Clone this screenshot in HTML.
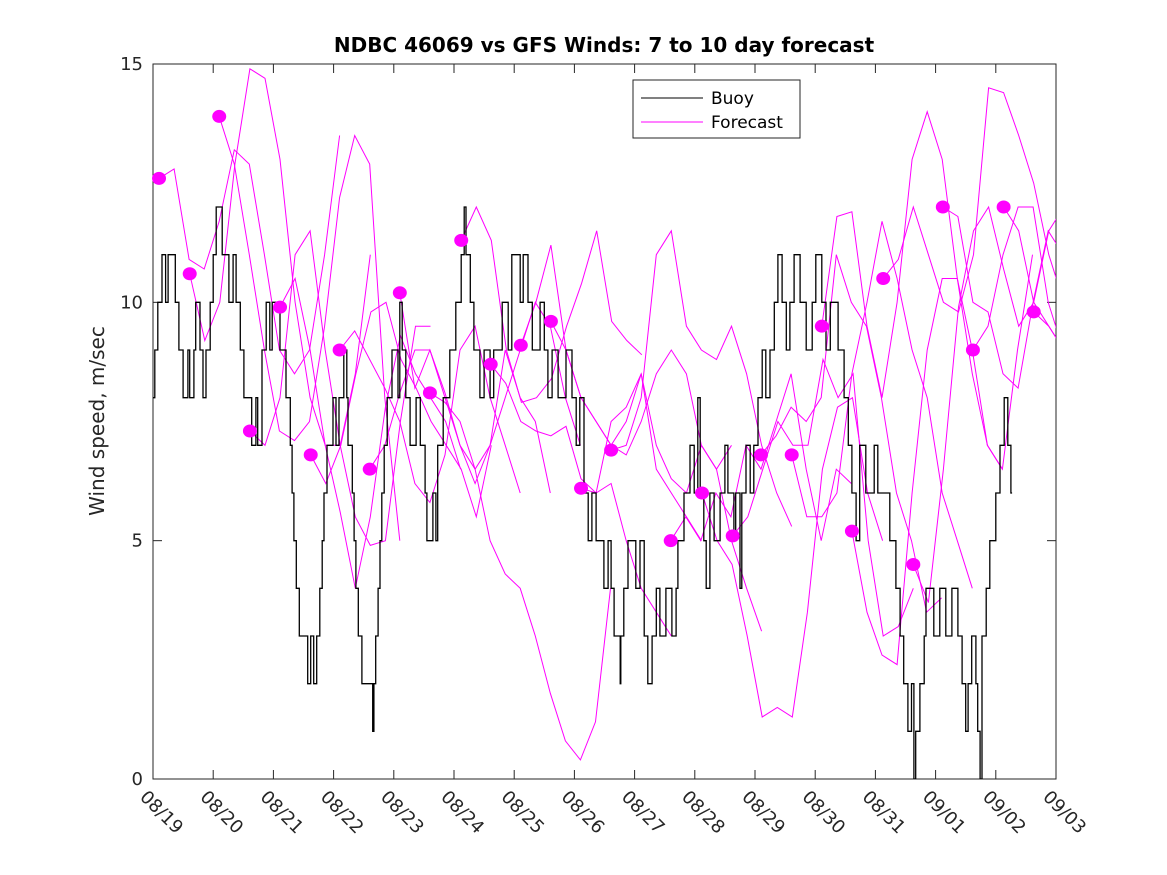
<!DOCTYPE html>
<html><head><meta charset="utf-8"><style>
html,body{margin:0;padding:0;background:#fff;}
svg{display:block;font-family:"DejaVu Sans","Liberation Sans",sans-serif;}
</style></head><body>
<svg id="chart" width="1167" height="875" viewBox="0 0 1167 875">
<rect x="0" y="0" width="1167" height="875" fill="#fff"/>
<defs><clipPath id="pc"><rect x="153" y="64" width="903" height="715"/></clipPath></defs>
<text x="604" y="52" text-anchor="middle" font-size="20" font-weight="bold" fill="#000">NDBC 46069 vs GFS Winds: 7 to 10 day forecast</text>
<text transform="translate(104,421) rotate(-90)" text-anchor="middle" font-size="20" fill="#262626">Wind speed, m/sec</text>
<g id="axes"></g>
<g id="forecasts" clip-path="url(#pc)"></g>
<g id="buoy" clip-path="url(#pc)"></g>
<g id="dots"></g>
<g id="legend">
<rect x="633" y="80" width="167" height="58" fill="#fff" stroke="#262626" stroke-width="1"/>
<line x1="641" y1="98" x2="703" y2="98" stroke="#000" stroke-width="1"/>
<text x="711" y="104" font-size="17" fill="#000">Buoy</text>
<line x1="641" y1="122" x2="703" y2="122" stroke="#ff00ff" stroke-width="1"/>
<text x="711" y="128" font-size="17" fill="#000">Forecast</text>
</g>
</svg>
<script>
const xTickLabels=["08/19","08/20","08/21","08/22","08/23","08/24","08/25","08/26","08/27","08/28","08/29","08/30","08/31","09/01","09/02","09/03"];
const yTicks=[0,5,10,15];
const buoyT=[0,0.03,0.08,0.15,0.21,0.25,0.37,0.43,0.5,0.58,0.61,0.68,0.71,0.78,0.83,0.88,0.95,1.0,1.05,1.15,1.26,1.33,1.38,1.45,1.51,1.64,1.71,1.74,1.81,1.88,1.94,1.98,2.11,2.21,2.28,2.31,2.34,2.38,2.43,2.57,2.62,2.67,2.72,2.77,2.81,2.84,2.89,2.99,3.04,3.09,3.17,3.22,3.24,3.31,3.34,3.37,3.41,3.47,3.65,3.67,3.7,3.74,3.77,3.8,3.84,3.89,3.97,4.07,4.1,4.14,4.2,4.27,4.37,4.44,4.52,4.55,4.65,4.7,4.73,4.82,4.93,5.03,5.12,5.17,5.2,5.27,5.33,5.43,5.5,5.6,5.66,5.8,5.9,5.96,6.1,6.15,6.23,6.3,6.43,6.5,6.56,6.63,6.73,6.86,6.96,7.03,7.09,7.16,7.23,7.29,7.36,7.49,7.56,7.61,7.66,7.76,7.77,7.82,7.89,8.02,8.09,8.16,8.22,8.29,8.36,8.42,8.52,8.62,8.69,8.72,8.82,8.92,8.99,9.05,9.09,9.15,9.19,9.25,9.32,9.42,9.5,9.55,9.65,9.68,9.75,9.78,9.85,9.92,9.98,10.05,10.12,10.18,10.25,10.32,10.38,10.45,10.52,10.58,10.65,10.75,10.85,10.95,11.01,11.11,11.18,11.25,11.38,11.48,11.55,11.61,11.68,11.74,11.84,11.98,12.04,12.24,12.34,12.41,12.47,12.54,12.6,12.64,12.67,12.74,12.81,12.84,12.97,13.07,13.17,13.27,13.37,13.44,13.5,13.54,13.6,13.67,13.7,13.74,13.77,13.84,13.9,14.0,14.07,14.14,14.2,14.25,14.27];
const buoyV=[8,9,10,11,10,11,10,9,8,9,8,9,10,9,8,9,10,11,12,11,10,11,10,9,8,7,8,7,9,10,9,10,9,8,7,6,5,4,3,2,3,2,3,4,5,6,7,8,7,8,9,8,7,6,5,4,3,2,1,2,3,4,5,6,7,8,9,8,10,9,8,7,8,7,6,5,6,5,7,8,9,10,11,12,11,10,9,8,9,8,9,10,9,11,10,11,10,9,10,9,8,9,8,9,8,7,8,6,5,6,5,4,5,4,3,2,3,4,5,4,5,3,2,3,4,3,4,3,4,5,6,7,6,8,6,5,4,6,5,6,7,6,5,6,4,6,7,6,7,8,9,8,9,10,11,10,9,10,11,10,9,10,11,10,9,10,9,8,7,6,5,7,6,7,6,5,4,3,2,1,2,0,1,2,3,4,3,4,3,4,3,2,1,2,3,2,1,0,3,4,5,6,7,8,7,6,6];
const fcStart=[0.1,0.61,1.1,1.61,2.11,2.62,3.1,3.6,4.1,4.6,5.12,5.61,6.11,6.61,7.11,7.61,8.6,9.12,9.63,10.1,10.61,11.11,11.61,12.13,12.63,13.12,13.62,14.13,14.63];
const fc0=[12.6,12.8,10.9,10.7,11.7,13.2,12.9,11,9,8.5,9,11,13.5];
const fc1=[10.6,9.2,10,12.9,14.9,14.7,13,10,8,7,7,8.5,11];
const fc2=[13.9,12.9,11,9,7.3,7.1,7.5,9.5,12.2,13.5,12.9,8,5];
const fc3=[7.3,7,8,11,11.5,9,7,5.5,4.9,5,7.5,9.5,9.5];
const fc4=[9.9,10.5,9,7,5.6,4,5.5,7.8,9.3,8.5,8,7.5,6.5];
const fc5=[6.8,6.2,7,8.5,9.8,10,8.8,8.2,7.5,7,6.5,5.5,7];
const fc6=[9.0,9.4,8.8,8.2,7.5,6.2,5.8,6.8,9,9.5,8,7,6];
const fc7=[6.5,7,8.1,9,9,8.1,7,6.2,7,9,8,7.5,6];
const fc8=[10.2,8.2,9,8,7,6.5,7,8,9,10,9.5,8,7];
const fc9=[8.1,7.9,7.5,6.5,5,4.3,4,3,1.8,0.8,0.4,1.2,4];
const fc10=[11.3,12,11.3,9,7.9,8,8.4,9.5,10.4,11.5,9.6,9.2,8.9];
const fc11=[8.7,8.3,7.5,7.3,7.2,7.4,6.3,6,6.2,5,4,3.5,3];
const fc12=[9.1,10,11.2,9,8,7.5,7,7.5,8.5,6.5,6,5.5,5];
const fc13=[9.6,9,8,7.5,7,6.8,7.5,8.5,9,8.5,7,6.5,7];
const fc14=[6.1,6,7.5,7.8,8.5,7,6.3,6,7,6.5,5,4,3.1];
const fc15=[6.9,7,8,11,11.5,9.5,9,8.8,9.5,8.5,7,6,5.3];
const fc16=[5.0,5.5,5,6,5.5,7,6.5,7.5,8.5,6.5,5,6.5,6.2];
const fc17=[6.0,5,4.5,3,1.3,1.5,1.3,3.5,6.5,7.8,8,6,5];
const fc18=[5.1,5.5,6.5,7.5,7,7,8.8,8,8.5,5,3,3.2,4];
const fc19=[6.8,7.2,7.8,7.5,8,11,10,9.5,8,6,5,3.5,3.8];
const fc20=[6.8,5.5,5.5,6,8.5,10,11.7,10.5,9,8,6,5,4];
const fc21=[9.5,11.8,11.9,9.5,8,10,13,14,13,10.5,9,7,6.5];
const fc22=[5.2,3.5,2.6,2.4,6,9,10.5,10.5,8.5,7,6.5,9,11];
const fc23=[10.5,10.9,12,11,10,9.8,11,14.5,14.4,13.5,12.5,11,10];
const fc24=[4.5,3.7,6.5,9.9,11.5,12,10.7,9.5,10,11.5,12,9.5,8.5];
const fc25=[12.0,11.8,10,9.8,8.5,8.2,10,11.5,11,9,8.5,9.4,7.7];
const fc26=[9.0,9.5,11,12,12,10,9,8,8.5,7.4];
const fc27=[12.0,11.5,10,9.5,9,8.5,6.5,5.8,5.9];
const fc28=[9.8,9.5,9,8.5,9.3];
const fcSeries=[fc0,fc1,fc2,fc3,fc4,fc5,fc6,fc7,fc8,fc9,fc10,fc11,fc12,fc13,fc14,fc15,fc16,fc17,fc18,fc19,fc20,fc21,fc22,fc23,fc24,fc25,fc26,fc27,fc28];

const NS="http://www.w3.org/2000/svg";
const X0=153,X1=1056,Y0=779,Y1=64;
function xs(d){return X0+(X1-X0)*d/15;}
function ys(v){return Y0-(Y0-Y1)*v/15;}
function mk(tag,attrs,parent){const e=document.createElementNS(NS,tag);for(const k in attrs)e.setAttribute(k,attrs[k]);parent.appendChild(e);return e;}

const axes=document.getElementById('axes');
const frame=mk('rect',{x:X0,y:Y1,width:X1-X0,height:Y0-Y1,fill:'none',stroke:'#262626','stroke-width':1},axes);


xTickLabels.forEach((lab,i)=>{
  const x=xs(i);
  const t1=mk('line',{x1:x,y1:Y0,x2:x,y2:Y0-9,stroke:'#262626'},axes);
  
  
  const t2=mk('line',{x1:x,y1:Y1,x2:x,y2:Y1+9,stroke:'#262626'},axes);
  
  
  const tx=mk('text',{x:0,y:0,transform:`translate(${x-14},${Y0+19}) rotate(45)`,'font-size':18,fill:'#262626'},axes);
  tx.textContent=lab;
  
  
});
yTicks.forEach(v=>{
  const y=ys(v);
  const t1=mk('line',{x1:X0,y1:y,x2:X0+9,y2:y,stroke:'#262626'},axes);
  
  
  const t2=mk('line',{x1:X1,y1:y,x2:X1-9,y2:y,stroke:'#262626'},axes);
  
  
  const tx=mk('text',{x:X0-10,y:y+6,'text-anchor':'end','font-size':18,fill:'#262626'},axes);
  tx.textContent=v;
  
  
});

const fg=document.getElementById('forecasts');
const dg=document.getElementById('dots');
fcSeries.forEach((s,i)=>{
  const pts=s.map((v,j)=>xs(fcStart[i]+0.25*j).toFixed(1)+','+ys(v).toFixed(1)).join(' ');
  const pl=mk('polyline',{points:pts,fill:'none',stroke:'#ff00ff','stroke-width':1},fg);
  
  
  const c=mk('ellipse',{cx:xs(fcStart[i]),cy:ys(s[0]),rx:7,ry:6.5,fill:'#ff00ff'},dg);
  
  
});

const bg=document.getElementById('buoy');
let d='M'+xs(buoyT[0]).toFixed(1)+' '+ys(buoyV[0]).toFixed(1);
for(let i=1;i<buoyT.length;i++){
  d+=' H'+xs(buoyT[i]).toFixed(1)+' V'+ys(buoyV[i]).toFixed(1);
}
const bp=mk('path',{d:d,fill:'none',stroke:'#000','stroke-width':1.3},bg);


</script>
</body></html>
